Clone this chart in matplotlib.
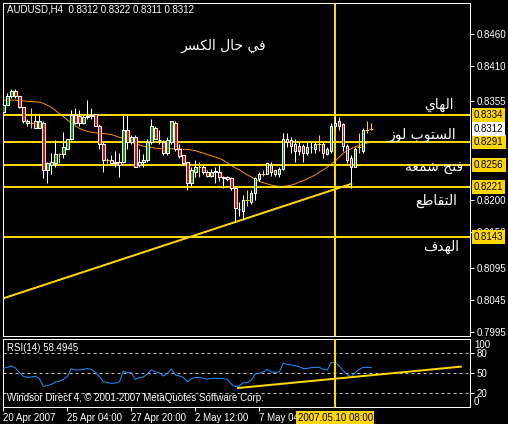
import matplotlib
matplotlib.use('Agg')
import matplotlib.pyplot as plt
import matplotlib.transforms as mtransforms
from matplotlib.patches import Rectangle

title_text = 'AUDUSD,H4  0.8312 0.8322 0.8311 0.8312'

opens = [0.8338, 0.8350, 0.8364, 0.8371, 0.8363, 0.8346, 0.8321, 0.8322, 0.8324, 0.8314,
         0.8322, 0.8247, 0.8255, 0.8258, 0.8272, 0.8272, 0.8281, 0.8296, 0.8333, 0.8332,
         0.8321, 0.8330, 0.8332, 0.8335, 0.8317, 0.8289, 0.8263, 0.8264, 0.8260, 0.8260,
         0.8260, 0.8310, 0.8291, 0.8300, 0.8255, 0.8260, 0.8263, 0.8291, 0.8314, 0.8294,
         0.8292, 0.8274, 0.8291, 0.8322, 0.8281, 0.8271, 0.8260, 0.8228, 0.8244, 0.8252,
         0.8252, 0.8245, 0.8238, 0.8245, 0.8245, 0.8236, 0.8236, 0.8235, 0.8220, 0.8186,
         0.8184, 0.8200, 0.8198, 0.8211, 0.8233, 0.8242, 0.8242, 0.8256, 0.8247, 0.8241,
         0.8250, 0.8297, 0.8294, 0.8289, 0.8286, 0.8286, 0.8274, 0.8283, 0.8281, 0.8288,
         0.8289, 0.8272, 0.8278, 0.8316, 0.8324, 0.8319, 0.8286, 0.8267, 0.8252, 0.8283,
         0.8278, 0.8310, 0.8312]
highs = [0.8352, 0.8368, 0.8374, 0.8374, 0.8364, 0.8347, 0.8328, 0.8344, 0.8333, 0.8336,
         0.8325, 0.8261, 0.8275, 0.8294, 0.8274, 0.8307, 0.8296, 0.8341, 0.8344, 0.8341,
         0.8336, 0.8357, 0.8344, 0.8336, 0.8319, 0.8291, 0.8267, 0.8271, 0.8278, 0.8275,
         0.8336, 0.8333, 0.8302, 0.8302, 0.8280, 0.8272, 0.8297, 0.8327, 0.8317, 0.8310,
         0.8294, 0.8299, 0.8325, 0.8324, 0.8289, 0.8271, 0.8261, 0.8252, 0.8264, 0.8260,
         0.8255, 0.8247, 0.8250, 0.8252, 0.8256, 0.8239, 0.8239, 0.8236, 0.8222, 0.8197,
         0.8208, 0.8216, 0.8216, 0.8236, 0.8245, 0.8247, 0.8261, 0.8261, 0.8250, 0.8252,
         0.8305, 0.8305, 0.8299, 0.8297, 0.8291, 0.8289, 0.8291, 0.8291, 0.8291, 0.8302,
         0.8291, 0.8283, 0.8321, 0.8330, 0.8330, 0.8322, 0.8288, 0.8271, 0.8283, 0.8305,
         0.8313, 0.8324, 0.8322]
lows = [0.8335, 0.8349, 0.8361, 0.8361, 0.8344, 0.8321, 0.8316, 0.8314, 0.8313, 0.8314,
        0.8235, 0.8228, 0.8242, 0.8252, 0.8258, 0.8267, 0.8280, 0.8294, 0.8319, 0.8317,
        0.8319, 0.8328, 0.8328, 0.8316, 0.8281, 0.8245, 0.8258, 0.8256, 0.8252, 0.8236,
        0.8258, 0.8281, 0.8289, 0.8252, 0.8252, 0.8252, 0.8260, 0.8289, 0.8296, 0.8289,
        0.8271, 0.8271, 0.8289, 0.8278, 0.8267, 0.8256, 0.8216, 0.8222, 0.8236, 0.8236,
        0.8242, 0.8236, 0.8236, 0.8227, 0.8231, 0.8220, 0.8231, 0.8216, 0.8166, 0.8175,
        0.8169, 0.8191, 0.8195, 0.8200, 0.8231, 0.8238, 0.8241, 0.8239, 0.8239, 0.8236,
        0.8247, 0.8283, 0.8274, 0.8260, 0.8271, 0.8260, 0.8271, 0.8274, 0.8274, 0.8278,
        0.8267, 0.8271, 0.8275, 0.8314, 0.8310, 0.8278, 0.8258, 0.8220, 0.8252, 0.8274,
        0.8274, 0.8305, 0.8311]
closes = [0.8349, 0.8364, 0.8371, 0.8363, 0.8346, 0.8325, 0.8325, 0.8322, 0.8314, 0.8324,
          0.8247, 0.8258, 0.8260, 0.8272, 0.8272, 0.8283, 0.8296, 0.8333, 0.8321, 0.8322,
          0.8330, 0.8332, 0.8333, 0.8317, 0.8289, 0.8263, 0.8263, 0.8258, 0.8258, 0.8256,
          0.8310, 0.8291, 0.8300, 0.8253, 0.8261, 0.8264, 0.8292, 0.8316, 0.8297, 0.8295,
          0.8274, 0.8294, 0.8324, 0.8281, 0.8269, 0.8258, 0.8228, 0.8247, 0.8252, 0.8252,
          0.8244, 0.8238, 0.8244, 0.8246, 0.8236, 0.8235, 0.8233, 0.8219, 0.8188, 0.8187,
          0.8200, 0.8200, 0.8211, 0.8235, 0.8242, 0.8242, 0.8258, 0.8244, 0.8241, 0.8249,
          0.8297, 0.8291, 0.8286, 0.8278, 0.8278, 0.8274, 0.8283, 0.8284, 0.8288, 0.8288,
          0.8274, 0.8280, 0.8316, 0.8322, 0.8316, 0.8286, 0.8264, 0.8252, 0.8281, 0.8283,
          0.8310, 0.8310, 0.8312]
# media movil (linea naranja)
ma_vals = [0.8357, 0.8357, 0.8357, 0.8357, 0.8356, 0.8356, 0.8355, 0.8355, 0.8354, 0.8354,
           0.8352, 0.8349, 0.8346, 0.8341, 0.8336, 0.8331, 0.8326, 0.8321, 0.8317, 0.8313,
           0.8310, 0.8308, 0.8307, 0.8306, 0.8305, 0.8305, 0.8304, 0.8303, 0.8301, 0.8299,
           0.8297, 0.8294, 0.8291, 0.8289, 0.8287, 0.8285, 0.8284, 0.8283, 0.8282, 0.8281,
           0.8281, 0.8281, 0.8281, 0.8281, 0.8281, 0.8280, 0.8280, 0.8279, 0.8278, 0.8276,
           0.8274, 0.8272, 0.8270, 0.8268, 0.8266, 0.8263, 0.8259, 0.8255, 0.8251, 0.8248,
           0.8244, 0.8240, 0.8237, 0.8233, 0.8230, 0.8228, 0.8226, 0.8224, 0.8223, 0.8222,
           0.8222, 0.8223, 0.8224, 0.8226, 0.8229, 0.8231, 0.8234, 0.8237, 0.8240, 0.8244,
           0.8248, 0.8252, 0.8257, 0.8262, 0.8268, 0.8274, 0.8278, 0.8281, 0.8284, 0.8286,
           0.8288, 0.8290, 0.8291]
rsi_vals = [57.5, 59, 61, 58, 51, 45.5, 44, 44.5, 45.5, 42,
            30.5, 31.5, 33.5, 37, 38, 41, 45.5, 57, 55, 55,
            56, 57, 56, 52, 45, 37.5, 36, 35, 35.5, 37,
            53, 51, 51, 41, 43.5, 44.5, 49, 55, 52, 51,
            46, 50, 56.5, 47.5, 46, 44, 37.5, 42, 44, 44,
            42.5, 41, 42.5, 42.5, 42.5, 42, 41, 34, 30, 31,
            36, 36, 40, 49, 50, 52, 56, 52, 51.5, 52,
            65, 63.5, 62.5, 61.5, 60, 57, 57.5, 58.5, 59, 59,
            56, 55, 66, 66.5, 61, 54, 48, 45, 51, 56,
            59, 59, 58.5]
rsi_label = 'RSI(14) 58.4945'
rsi_levels = [80, 50, 20]

levels = [0.8334, 0.8291, 0.8256, 0.8221, 0.8143]
last_price = 0.8312
price_ticks = [0.8460, 0.8410, 0.8355, 0.8200, 0.8150, 0.8095, 0.8045, 0.7995]

trend_bars = [0, 87]
trend_prices = [0.8047, 0.8226]
rsi_trend_bars = [58.7, 114.4]
rsi_trend_vals = [28, 60]

vline_bar = 83
vline_label = '2007.05.10 08:00'
time_tick_bars = [0, 16, 32, 48, 64]
time_tick_labels = ['20 Apr 2007', '25 Apr 04:00', '27 Apr 20:00', '2 May 12:00', '7 May 04:00']
copyright_text = 'Windsor Direct 4, \u00a9 2001-2007 MetaQuotes Software Corp.'

notes = ['في حال الكسر', 'الهاي', 'الستوب لوز', 'فتح شمعة', 'التقاطع', 'الهدف']

GOLD = '#FFD700'
PX = 0.72  # un pixel en puntos (dpi 100)
plt.rcParams['font.family'] = ['Liberation Sans', 'DejaVu Sans']

# formas de presentacion arabes (aislada, final, inicial, medial = base + 0..3)
AR_BASE = {'ا': 0xFE8D, 'ب': 0xFE8F, 'ة': 0xFE93, 'ت': 0xFE95, 'ح': 0xFEA1, 'د': 0xFEA9,
           'ر': 0xFEAD, 'ز': 0xFEAF, 'س': 0xFEB1, 'ش': 0xFEB5, 'ط': 0xFEC1, 'ع': 0xFEC9,
           'ف': 0xFED1, 'ق': 0xFED5, 'ك': 0xFED9, 'ل': 0xFEDD, 'م': 0xFEE1, 'ه': 0xFEE9,
           'و': 0xFEED, 'ي': 0xFEF1}
AR_RIGHT_ONLY = set('اةدرزو')


def arabic(text):
    out = []
    for k, ch in enumerate(text):
        if ch not in AR_BASE:
            out.append(ch)
            continue
        prev = text[k - 1] if k > 0 else ''
        nxt = text[k + 1] if k + 1 < len(text) else ''
        j_prev = prev in AR_BASE and prev not in AR_RIGHT_ONLY
        j_next = nxt in AR_BASE and ch not in AR_RIGHT_ONLY
        if j_prev and j_next:
            off = 3
        elif j_prev:
            off = 1
        elif j_next:
            off = 2
        else:
            off = 0
        out.append(chr(AR_BASE[ch] + off))
    return ''.join(reversed(out))


fig = plt.figure(figsize=(5.08, 4.24), dpi=100, facecolor='black')
ax = fig.add_axes([3 / 508, 1 - 336 / 424, 467 / 508, 333 / 424], facecolor='black')
ax_rsi = fig.add_axes([3 / 508, 1 - 407 / 424, 467 / 508, 68 / 424], facecolor='black')

for a in (ax, ax_rsi):
    a.set_xlim(-0.1, 116.7)
    for s in a.spines.values():
        s.set_color('white')
        s.set_linewidth(PX)

ax.set_ylim(0.7988, 0.8509)
ax_rsi.set_ylim(-0.5, 101.5)

# velas
for i in range(len(opens)):
    o, h, l, c = opens[i], highs[i], lows[i], closes[i]
    if o == c:
        ax.vlines(i, l, h, color=GOLD, lw=PX, zorder=3)
        ax.hlines(o, i - 0.45, i + 0.45, color=GOLD, lw=PX, zorder=3)
        continue
    ax.vlines(i, l, h, color='white', lw=PX, zorder=3)
    fc = '#00A000' if c > o else '#FF0000'
    ax.add_patch(Rectangle((i - 0.3, min(o, c)), 0.6, abs(c - o), facecolor=fc,
                           edgecolor='white', lw=PX, zorder=4))

ax.plot(range(len(ma_vals)), ma_vals, color='#FF8C00', lw=PX, zorder=2)

for lv in levels:
    ax.axhline(lv, color=GOLD, lw=2 * PX, zorder=2)
ax.plot(trend_bars, trend_prices, color=GOLD, lw=2 * PX, zorder=2)
ax.axvline(vline_bar, color=GOLD, lw=2 * PX, zorder=2)

# eje de precios a la derecha
ax.yaxis.tick_right()
ax.set_yticks(price_ticks)
ax.set_yticklabels(['%.4f' % t for t in price_ticks])
ax.tick_params(axis='y', colors='white', labelsize=7, length=3, width=PX, pad=2)
ax.set_xticks([])

tr = mtransforms.blended_transform_factory(ax.transAxes, ax.transData)
for lv in levels:
    ax.text(1.0086, lv, '%.4f' % lv, transform=tr, ha='left', va='center', fontsize=7,
            color='black', zorder=6, clip_on=False,
            bbox=dict(boxstyle='square,pad=0.2', fc=GOLD, ec='none'))
ax.text(1.0086, last_price, '%.4f' % last_price, transform=tr, ha='left', va='center',
        fontsize=7, color='black', zorder=6, clip_on=False,
        bbox=dict(boxstyle='square,pad=0.2', fc='white', ec='none'))

ax.text(0.0086, 0.979, title_text, transform=ax.transAxes, ha='left', va='center',
        fontsize=7, color='white')

# textos en arabe
ar_font = dict(color='white', fontsize=10, family='DejaVu Sans', va='center')
ax.text(55.1, 0.8442, arabic(notes[0]), ha='center', **ar_font)
ax.text(112.7, 0.8349, arabic(notes[1]), ha='right', **ar_font)
ax.text(113.2, 0.8302, arabic(notes[2]), ha='right', **ar_font)
ax.text(114.9, 0.8252, arabic(notes[3]), ha='right', **ar_font)
ax.text(113.4, 0.8200, arabic(notes[4]), ha='right', **ar_font)
ax.text(113.9, 0.8127, arabic(notes[5]), ha='right', **ar_font)

# panel RSI
ax_rsi.plot(range(len(rsi_vals)), rsi_vals, color='#1E90FF', lw=PX, zorder=3)
for lv in rsi_levels:
    ax_rsi.axhline(lv, color='#C0C0C0', lw=PX, ls=(0, (3, 3)), zorder=1)
ax_rsi.plot(rsi_trend_bars, rsi_trend_vals, color=GOLD, lw=2 * PX, zorder=4)
ax_rsi.axvline(vline_bar, color=GOLD, lw=2 * PX, zorder=5)

ax_rsi.yaxis.tick_right()
ax_rsi.set_yticks(rsi_levels)
ax_rsi.set_yticklabels([str(v) for v in rsi_levels])
ax_rsi.tick_params(axis='y', colors='white', labelsize=7, length=3, width=PX, pad=2)
trr = mtransforms.blended_transform_factory(ax_rsi.transAxes, ax_rsi.transData)
ax_rsi.text(1.0086, 100, '100', transform=trr, ha='left', va='top', fontsize=7, color='white')
ax_rsi.text(1.0086, 0, '0', transform=trr, ha='left', va='bottom', fontsize=7, color='white')

ax_rsi.text(0.0086, 0.868, rsi_label, transform=ax_rsi.transAxes, ha='left', va='center',
            fontsize=7, color='white')
ax_rsi.text(0.0086, 0.132, copyright_text, transform=ax_rsi.transAxes, ha='left',
            va='center', fontsize=7, color='white')

ax_rsi.set_xticks(time_tick_bars)
ax_rsi.set_xticklabels(time_tick_labels)
for lbl in ax_rsi.get_xticklabels():
    lbl.set_ha('left')
ax_rsi.tick_params(axis='x', colors='white', labelsize=7, length=3, width=PX, pad=1.5)

trx = mtransforms.blended_transform_factory(ax_rsi.transData, ax_rsi.transAxes)
ax_rsi.text(vline_bar, -0.155, vline_label, transform=trx, ha='center', va='center',
            fontsize=7, color='black', zorder=6, clip_on=False,
            bbox=dict(boxstyle='square,pad=0.15', fc=GOLD, ec='none'))

fig.savefig('out.png', dpi=100, facecolor='black')
